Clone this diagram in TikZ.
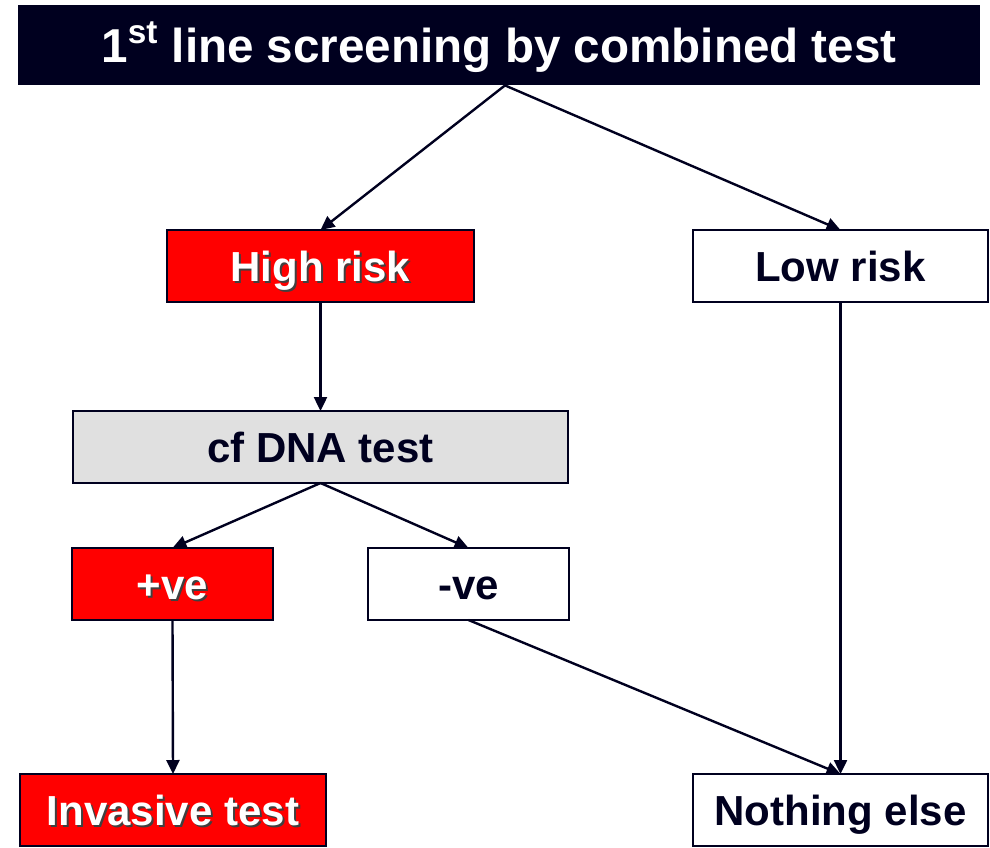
\documentclass[tikz,border=0pt]{standalone}
\usepackage{fontspec}
\setmainfont{Liberation Sans}
\usepackage{xcolor}
\usetikzlibrary{arrows.meta}
\definecolor{navy}{HTML}{00001F}
\definecolor{alarm}{HTML}{FF0000}
\definecolor{cfgray}{HTML}{E0E0E0}
\newcommand{\shadowed}[1]{\rlap{\hspace{1pt}\raisebox{-1pt}{\textcolor{black!75}{#1}}}#1}
\tikzset{
  box/.style = {draw = navy, line width = 0.8pt, minimum height = 36pt, inner sep = 0pt, outer sep = 0pt,
                text height = 15pt, text depth = 0pt,
                font = \fontsize{21pt}{25pt}\selectfont\bfseries, text = navy},
  redbox/.style = {box, fill = alarm, text = white},
  flow/.style = {draw = navy, line width = 1.2pt, -{Triangle[width = 6.5pt, length = 7pt]}}
}
\begin{document}
\begin{tikzpicture}[x = 0.5pt, y = -0.5pt]
            \useasboundingbox (0,0) rectangle (990,847);

            \node (top) at (499,45) [fill = navy, minimum width = 481pt, minimum height = 40pt, inner sep = 0pt,
                  text height = 17pt, text depth = 0pt,
                  text = white, font = \fontsize{23.8pt}{28pt}\selectfont\bfseries] {1\textsuperscript{st} line screening by combined test};

            \node (high) at (320.5,266) [redbox, minimum width = 153.5pt] {\shadowed{High risk}};
            \node (low) at (840.5,266) [box, fill = white, minimum width = 147.5pt] {Low risk};
            \node (cf) at (320.5,447) [box, fill = cfgray, minimum width = 247.5pt] {cf DNA test};
            \node (pos) at (172.5,584) [redbox, minimum width = 100.5pt] {\shadowed{+ve}};
            \node (neg) at (468.5,584) [box, fill = white, minimum width = 100.5pt] {-ve};
            \node (inv) at (173,810) [redbox, minimum width = 153pt] {\shadowed{Invasive test}};
            \node (none) at (840.5,810) [box, fill = white, minimum width = 147.5pt] {Nothing else};

            \draw[flow] ([xshift = 3pt]top.south) -- (high.north);
            \draw[flow] ([xshift = 3pt]top.south) -- (low.north);
            \draw[flow] (high.south) -- (cf.north);
            \draw[flow] (cf.south) -- (pos.north);
            \draw[flow] (cf.south) -- (neg.north);
            \draw[flow] (pos.south) -- (inv.north);
            \draw[flow] (neg.south) -- (none.north);
            \draw[flow] (low.south) -- (none.north);
          \end{tikzpicture}
\end{document}
